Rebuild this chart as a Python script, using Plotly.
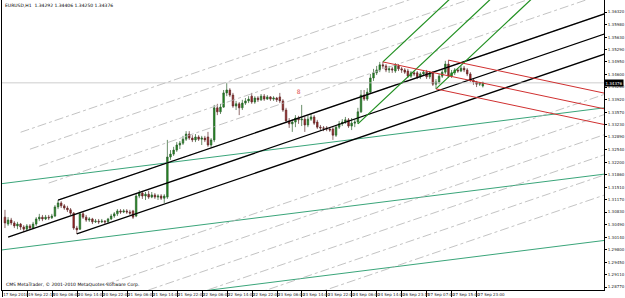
import plotly.graph_objects as go

# ---------------- data (EURUSD H1) ----------------
bar_open = [1.3069,1.3050,1.3061,1.3053,1.3045,1.3050,1.3042,1.3036,1.3045,1.3039,
            1.3050,1.3064,1.3069,1.3064,1.3069,1.3067,1.3072,1.3097,1.3108,1.3100,
            1.3094,1.3089,1.3080,1.3039,1.3036,1.3078,1.3069,1.3061,1.3064,1.3056,
            1.3058,1.3056,1.3058,1.3056,1.3064,1.3072,1.3078,1.3086,1.3083,1.3086,
            1.3083,1.3086,1.3072,1.3127,1.3135,1.3127,1.3132,1.3124,1.3130,1.3124,
            1.3127,1.3121,1.3124,1.3234,1.3242,1.3253,1.3267,1.3272,1.3283,1.3297,
            1.3286,1.3281,1.3289,1.3283,1.3286,1.3289,1.3267,1.3281,1.3369,1.3358,
            1.3371,1.3410,1.3418,1.3404,1.3374,1.3380,1.3369,1.3382,1.3388,1.3401,
            1.3385,1.3396,1.3391,1.3401,1.3393,1.3399,1.3393,1.3396,1.3399,1.3388,
            1.3363,1.3333,1.3325,1.3330,1.3341,1.3336,1.3338,1.3322,1.3338,1.3344,
            1.3330,1.3316,1.3314,1.3314,1.3311,1.3311,1.3294,1.3316,1.3325,1.3330,
            1.3336,1.3319,1.3327,1.3330,1.3358,1.3404,1.3393,1.3412,1.3451,1.3465,
            1.3473,1.3487,1.3484,1.3473,1.3476,1.3470,1.3484,1.3476,1.3473,1.3470,
            1.3456,1.3465,1.3465,1.3454,1.3462,1.3467,1.3454,1.3465,1.3434,1.3440,
            1.3456,1.3467,1.3489,1.3456,1.3465,1.3473,1.3470,1.3478,1.3473,1.3462,
            1.3445,1.3440,1.3434,1.3429]
bar_high = [1.3089,1.3069,1.3067,1.3058,1.3056,1.3053,1.3047,1.3050,1.3050,1.3056,
            1.3069,1.3078,1.3075,1.3075,1.3075,1.3078,1.3102,1.3116,1.3113,1.3105,
            1.3100,1.3094,1.3083,1.3045,1.3083,1.3083,1.3075,1.3069,1.3067,1.3064,
            1.3064,1.3064,1.3061,1.3067,1.3078,1.3083,1.3091,1.3091,1.3091,1.3091,
            1.3089,1.3089,1.3135,1.3143,1.3141,1.3138,1.3141,1.3138,1.3135,1.3132,
            1.3132,1.3132,1.3281,1.3253,1.3262,1.3275,1.3278,1.3292,1.3305,1.3305,
            1.3294,1.3297,1.3294,1.3292,1.3292,1.3303,1.3286,1.3377,1.3380,1.3380,
            1.3418,1.3437,1.3423,1.3410,1.3388,1.3385,1.3391,1.3396,1.3401,1.3410,
            1.3401,1.3401,1.3407,1.3407,1.3404,1.3401,1.3401,1.3399,1.3410,1.3393,
            1.3369,1.3341,1.3338,1.3349,1.3347,1.3377,1.3344,1.3347,1.3352,1.3349,
            1.3336,1.3322,1.3319,1.3319,1.3316,1.3316,1.3322,1.3333,1.3338,1.3344,
            1.3341,1.3341,1.3338,1.3369,1.3418,1.3418,1.3423,1.3462,1.3476,1.3484,
            1.3495,1.3495,1.3489,1.3484,1.3481,1.3492,1.3489,1.3481,1.3478,1.3476,
            1.3470,1.3470,1.3470,1.3467,1.3473,1.3473,1.3470,1.3470,1.3448,1.3462,
            1.3473,1.3498,1.3500,1.3473,1.3478,1.3478,1.3484,1.3484,1.3478,1.3467,
            1.3451,1.3443,1.3440,1.3441]
bar_low = [1.3039,1.3045,1.3047,1.3039,1.3036,1.3034,1.3028,1.3031,1.3034,1.3036,
           1.3045,1.3058,1.3058,1.3061,1.3061,1.3064,1.3069,1.3091,1.3094,1.3089,
           1.3083,1.3075,1.3034,1.3023,1.3034,1.3064,1.3056,1.3056,1.3050,1.3053,
           1.3050,1.3053,1.3050,1.3053,1.3061,1.3067,1.3072,1.3078,1.3080,1.3078,
           1.3075,1.3064,1.3069,1.3121,1.3119,1.3116,1.3119,1.3121,1.3119,1.3116,
           1.3116,1.3108,1.3119,1.3226,1.3237,1.3248,1.3256,1.3267,1.3278,1.3281,
           1.3275,1.3275,1.3278,1.3267,1.3275,1.3262,1.3259,1.3275,1.3349,1.3352,
           1.3369,1.3401,1.3399,1.3369,1.3363,1.3349,1.3363,1.3377,1.3382,1.3380,
           1.3380,1.3385,1.3388,1.3388,1.3391,1.3388,1.3388,1.3385,1.3382,1.3358,
           1.3327,1.3314,1.3303,1.3316,1.3325,1.3319,1.3303,1.3316,1.3333,1.3322,
           1.3311,1.3308,1.3305,1.3305,1.3303,1.3281,1.3289,1.3311,1.3319,1.3325,
           1.3314,1.3308,1.3316,1.3325,1.3355,1.3388,1.3388,1.3410,1.3443,1.3459,
           1.3467,1.3476,1.3467,1.3465,1.3465,1.3465,1.3470,1.3465,1.3462,1.3451,
           1.3451,1.3456,1.3448,1.3448,1.3459,1.3448,1.3448,1.3429,1.3421,1.3434,
           1.3451,1.3462,1.3451,1.3451,1.3459,1.3465,1.3467,1.3467,1.3456,1.3440,
           1.3432,1.3426,1.3429,1.3425]
bar_close = [1.3053,1.3061,1.3053,1.3045,1.3050,1.3042,1.3036,1.3045,1.3039,1.3050,
             1.3064,1.3069,1.3064,1.3069,1.3067,1.3072,1.3097,1.3108,1.3100,1.3094,
             1.3089,1.3080,1.3039,1.3034,1.3078,1.3069,1.3061,1.3064,1.3056,1.3058,
             1.3056,1.3058,1.3056,1.3064,1.3072,1.3078,1.3086,1.3083,1.3086,1.3083,
             1.3080,1.3069,1.3127,1.3135,1.3127,1.3132,1.3124,1.3130,1.3124,1.3127,
             1.3121,1.3127,1.3234,1.3242,1.3253,1.3267,1.3272,1.3283,1.3297,1.3286,
             1.3281,1.3289,1.3283,1.3286,1.3281,1.3267,1.3281,1.3369,1.3358,1.3371,
             1.3410,1.3418,1.3404,1.3374,1.3380,1.3369,1.3382,1.3388,1.3393,1.3385,
             1.3396,1.3391,1.3401,1.3393,1.3399,1.3393,1.3396,1.3391,1.3388,1.3363,
             1.3333,1.3325,1.3330,1.3341,1.3336,1.3338,1.3322,1.3338,1.3344,1.3327,
             1.3316,1.3314,1.3313,1.3311,1.3308,1.3294,1.3316,1.3325,1.3330,1.3336,
             1.3319,1.3327,1.3330,1.3358,1.3404,1.3393,1.3412,1.3451,1.3465,1.3473,
             1.3487,1.3484,1.3473,1.3476,1.3473,1.3487,1.3476,1.3473,1.3467,1.3456,
             1.3465,1.3462,1.3454,1.3462,1.3467,1.3454,1.3465,1.3434,1.3440,1.3456,
             1.3467,1.3489,1.3456,1.3465,1.3473,1.3470,1.3478,1.3473,1.3462,1.3445,
             1.3440,1.3434,1.3437,1.3438]
bid_price = 1.34376

time_labels = ["17 Sep 2010", "19 Sep 22:15", "20 Sep 06:00", "20 Sep 14:00", "20 Sep 22:00",
               "21 Sep 06:00", "21 Sep 14:00", "21 Sep 22:00", "22 Sep 06:00", "22 Sep 14:00",
               "22 Sep 22:00", "23 Sep 06:00", "23 Sep 14:00", "23 Sep 22:00", "24 Sep 06:00",
               "24 Sep 14:00", "26 Sep 23:15", "27 Sep 07:00", "27 Sep 15:00", "27 Sep 23:00"]
bars_per_label = 8

price_ticks = [1.28770, 1.29110, 1.29450, 1.29800, 1.30140, 1.30490, 1.30830, 1.31170,
               1.31510, 1.31860, 1.32200, 1.32540, 1.32890, 1.33230, 1.33570, 1.33920,
               1.34260, 1.34600, 1.34950, 1.35290, 1.35630, 1.35980, 1.36320]

# drawn objects: anchors as (bar index, price)
black_fork = [(1, 1.3014), (17, 1.3116), (23, 1.3023)]
black_fork_levels = [-6, -5, -4, -3, -2, 2, 3, 4, 5, 6, 7]
green_fork = [(113, 1.3325), (121, 1.3495), (138, 1.3421)]
red_fork = [(121, 1.3495), (142, 1.3500), (138, 1.3421)]
teal_mid = [(0, 1.2980), (190, 1.3185)]
teal_dev = 0.0182
marker_point = (94, 1.3410)

# ---------------- figure ----------------
n = len(bar_open)
xs = list(range(n))
X_MIN, X_MAX = -0.95, 191.8
Y_MIN, Y_MAX = 1.28690, 1.36650
FAR = 400

fig = go.Figure()


def add_line(x0, y0, x1, y1, color, width=1.0, dash="solid"):
    fig.add_trace(go.Scatter(x=[x0, x1], y=[y0, y1], mode="lines",
                             line=dict(color=color, width=width, dash=dash),
                             hoverinfo="skip", showlegend=False))


def ray_from(b, p, slope, color, width=1.0, dash="solid"):
    add_line(b, p, FAR, p + slope * (FAR - b), color, width, dash)


def pitchfork(anchors, color, width=1.1, levels=(), level_color="#b4b4b4"):
    (b1, p1), (b2, p2), (b3, p3) = anchors
    bm, pm = (b2 + b3) / 2, (p2 + p3) / 2
    s = (pm - p1) / (bm - b1)
    # warning lines start on the extension of the P2-P3 segment
    for k in levels:
        t = (k + 1) / 2.0  # k=1 -> P3, k=-1 -> P2
        bs = bm + t * (b3 - b2)
        ps = pm + t * (p3 - p2)
        ray_from(bs, ps, s, level_color, 0.8, "dashdot")
    ray_from(b1, p1, s, color, width)
    ray_from(b2, p2, s, color, width)
    ray_from(b3, p3, s, color, width)


# teal regression channel
(tb0, tp0), (tb1, tp1) = teal_mid
ts = (tp1 - tp0) / (tb1 - tb0)
for off in (-teal_dev, 0, teal_dev):
    add_line(-50, tp0 + off + ts * (-50 - tb0), FAR, tp0 + off + ts * (FAR - tb0), "#3aa57a", 1.0)

# gray levels + black fork
pitchfork(black_fork, "#000000", 1.3, black_fork_levels)

# bid line
add_line(-50, bid_price, FAR, bid_price, "#c0c0c0", 0.8)

# green and red forks
pitchfork(green_fork, "#1f8f1f", 1.2)
pitchfork(red_fork, "#d03030", 1.0)

fig.add_trace(go.Candlestick(
    x=xs, open=bar_open, high=bar_high, low=bar_low, close=bar_close,
    increasing=dict(line=dict(color="#2b5e2b", width=0.7), fillcolor="#1f8f1f"),
    decreasing=dict(line=dict(color="#5e2b2b", width=0.7), fillcolor="#a01e1e"),
    whiskerwidth=0, hoverinfo="skip", showlegend=False))

# small red chart symbol
fig.add_trace(go.Scatter(x=[marker_point[0]], y=[marker_point[1]], mode="text",
                         text=["8"], textfont=dict(size=6, color="#e05050"),
                         hoverinfo="skip", showlegend=False))

tick_bars = [k * bars_per_label - 0.9 for k in range(len(time_labels))]

fig.update_layout(
    width=625, height=298,
    margin=dict(l=2, r=14, t=0, b=8),
    paper_bgcolor="white", plot_bgcolor="white",
    font=dict(family="DejaVu Sans", size=4, color="#222222"),
    xaxis=dict(range=[X_MIN, X_MAX], showgrid=False, zeroline=False,
               rangeslider=dict(visible=False),
               showline=True, linecolor="#000000", linewidth=1, mirror=False,
               tickmode="array", tickvals=tick_bars, ticktext=time_labels,
               tickangle=0,
               ticks="outside", ticklen=6, tickwidth=1, tickcolor="#000000",
               ticklabelposition="outside right",
               tickfont=dict(size=4, color="#222222")),
    yaxis=dict(range=[Y_MIN, Y_MAX], side="right", showgrid=False, zeroline=False,
               showline=True, linecolor="#000000", linewidth=1, mirror=True,
               tickmode="array", tickvals=price_ticks,
               ticktext=["%.5f" % v for v in price_ticks],
               ticks="outside", ticklen=2, tickcolor="#000000",
               tickfont=dict(size=4, color="#222222")),
    annotations=[
        dict(xref="paper", yref="paper", x=0.002, y=0.995, xanchor="left", yanchor="top",
             text="EURUSD,H1  %.5f %.5f %.5f %.5f" % (1.34292, 1.34406, 1.34250, bid_price),
             showarrow=False, font=dict(size=4.5, color="#000000")),
        dict(xref="paper", yref="paper", x=0.004, y=0.004, xanchor="left", yanchor="bottom",
             text="CMS MetaTrader, © 2001-2010 MetaQuotes Software Corp.",
             showarrow=False, font=dict(size=4.5, color="#000000")),
        dict(xref="paper", yref="y", x=1.0, y=bid_price, xanchor="left", yanchor="middle",
             text="%.5f" % bid_price, showarrow=False, bgcolor="#000000",
             font=dict(size=4, color="#ffffff"), borderpad=0.5),
    ],
)

fig.write_html("out.html")
